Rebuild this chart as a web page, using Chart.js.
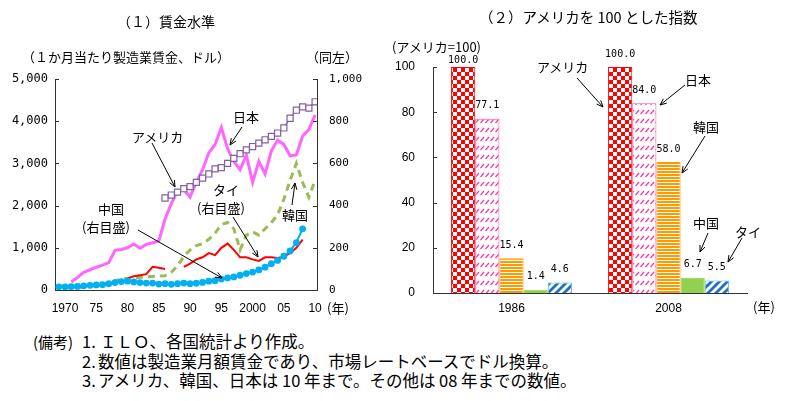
<!DOCTYPE html>
<html>
<head>
<meta charset="utf-8">
<script src="https://cdn.jsdelivr.net/npm/chart.js@4.4.0/dist/chart.umd.min.js"></script>
<style>
body { margin: 0; background: #fff; }
#wrap { position: relative; width: 785px; height: 401px; overflow: hidden; font-family: "Noto Sans CJK JP", sans-serif; color: #000; }
.t { position: absolute; white-space: nowrap; line-height: 1; }
.n { font-size: 16.5px; }
canvas { position: absolute; top: 0; }
</style>
</head>
<body>
<div id="wrap">
  <canvas id="c1" width="390" height="320" style="left:0"></canvas>
  <canvas id="c2" width="400" height="320" style="left:385px"></canvas>

  <div class="t" style="left:117px;top:14px;font-size:14px">（１）賃金水準</div>
  <div class="t" style="left:22px;top:50px;font-size:13px">（１か月当たり製造業賃金、ドル）</div>
  <div class="t" style="left:306px;top:50px;font-size:13px">（同左）</div>
  <div class="t" style="left:132px;top:130px;font-size:13px">アメリカ</div>
  <div class="t" style="left:233px;top:110px;font-size:13px">日本</div>
  <div class="t" style="left:213px;top:183px;font-size:13px">タイ</div>
  <div class="t" style="left:197px;top:201px;font-size:13px">(右目盛)</div>
  <div class="t" style="left:98px;top:202px;font-size:13px">中国</div>
  <div class="t" style="left:82px;top:220px;font-size:13px">(右目盛)</div>
  <div class="t" style="left:282px;top:208px;font-size:13px">韓国</div>
  <div class="t" style="left:327px;top:301px;font-size:13px">(年)</div>

  <div class="t" style="left:479px;top:10px;font-size:14.5px">（２）アメリカを 100 とした指数</div>
  <div class="t" style="left:392px;top:40px;font-size:13px">(アメリカ=100)</div>
  <div class="t" style="left:537px;top:60px;font-size:13px">アメリカ</div>
  <div class="t" style="left:685px;top:73px;font-size:13px">日本</div>
  <div class="t" style="left:693px;top:120px;font-size:13px">韓国</div>
  <div class="t" style="left:693px;top:216px;font-size:13px">中国</div>
  <div class="t" style="left:735px;top:225px;font-size:13px">タイ</div>
  <div class="t" style="left:753px;top:300px;font-size:13px">(年)</div>

  <div class="t" style="left:33px;top:334px;font-size:15px">(備考)</div>
  <div class="t n" style="left:82px;top:333px">1.</div>
  <div class="t n" style="left:100px;top:333px">ＩＬＯ、各国統計より作成。</div>
  <div class="t n" style="left:82px;top:353px">2.</div>
  <div class="t n" style="left:98px;top:353px">数値は製造業月額賃金であり、市場レートベースでドル換算。</div>
  <div class="t n" style="left:82px;top:372px">3.</div>
  <div class="t n" style="left:98px;top:372px">アメリカ、韓国、日本は 10 年まで。その他は 08 年までの数値。</div>
</div>

<script>
// (1) wage level, dollars per month
var years = [1969,1970,1971,1972,1973,1974,1975,1976,1977,1978,1979,
  1980,1981,1982,1983,1984,1985,1986,1987,1988,1989,
  1990,1991,1992,1993,1994,1995,1996,1997,1998,1999,
  2000,2001,2002,2003,2004,2005,2006,2007,2008,2009,2010];
var japan = [null,null,190,300,420,480,540,590,650,940,960,
  1000,1090,990,1080,1120,1160,1680,2050,2350,2380,
  2200,2550,2850,3250,3450,3850,3350,3050,2850,3200,
  2550,3050,2750,3300,3550,3450,3180,3200,3650,3800,4150];
var usa = [null,null,null,null,null,null,null,null,null,null,null,
  null,null,null,null,null,null,2180,2250,2320,2400,
  2450,2550,2650,2750,2870,2900,3000,3120,3230,3320,
  3400,3480,3560,3640,3720,3840,4070,4260,4340,4310,4460];
var korea = [null,40,50,55,70,90,110,140,170,220,260,
  270,280,300,310,320,330,340,420,570,800,
  950,1050,1100,1200,1350,1550,1600,1450,950,1300,
  1380,1300,1450,1600,1780,2150,2600,3000,2550,2200,2600];
// right axis
var thai = [null,null,null,null,null,null,null,null,null,null,null,
  55,65,70,75,110,105,100,null,null,110,
  125,145,155,175,165,200,220,190,155,155,
  145,138,155,155,152,158,175,200,239,null,null];
var china = [15,15,16,17,20,22,24,25,30,35,40,
  42,38,35,33,33,28,30,27,30,33,
  30,32,36,42,44,52,57,62,70,78,
  85,95,108,125,140,160,185,225,290,null,null];
var xTickYears = [1970,1975,1980,1985,1990,1995,2000,2005,2010];
var xTickLabels = ['1970','75','80','85','90','95','2000','05','10'];

// (2) index, USA = 100
var groups = ['1986','2008'];
var usaIdx = [100.0,100.0];
var japanIdx = [77.1,84.0];
var koreaIdx = [15.4,58.0];
var chinaIdx = [1.4,6.7];
var thaiIdx = [4.6,5.5];

function pts(arr) {
  return years.map(function (y, i) { return {x: y, y: arr[i]}; });
}

function arrow(ctx, x1, y1, x2, y2) {
  var a = Math.atan2(y2 - y1, x2 - x1), h = 7;
  ctx.beginPath();
  ctx.moveTo(x1, y1); ctx.lineTo(x2, y2);
  ctx.moveTo(x2 - h * Math.cos(a - 0.4), y2 - h * Math.sin(a - 0.4));
  ctx.lineTo(x2, y2);
  ctx.lineTo(x2 - h * Math.cos(a + 0.4), y2 - h * Math.sin(a + 0.4));
  ctx.stroke();
}

function innerTicks(ctx, scale, side) {
  ctx.beginPath();
  scale.ticks.forEach(function (t) {
    var py = Math.round(scale.getPixelForValue(t.value)) + 0.5;
    if (side == 'left') { ctx.moveTo(scale.right, py); ctx.lineTo(scale.right + 4, py); }
    else { ctx.moveTo(scale.left - 4, py); ctx.lineTo(scale.left, py); }
  });
  ctx.stroke();
}

var leftDeco = {
  id: 'leftDeco',
  afterDraw: function (chart) {
    var ctx = chart.ctx;
    ctx.save();
    ctx.strokeStyle = '#333'; ctx.lineWidth = 1;
    innerTicks(ctx, chart.scales.y, 'left');
    innerTicks(ctx, chart.scales.y1, 'right');
    ctx.strokeStyle = '#000';
    arrow(ctx, 152, 143, 175, 187);
    arrow(ctx, 242, 127, 230, 145);
    arrow(ctx, 233, 217, 258, 257);
    arrow(ctx, 138, 230, 222, 278);
    arrow(ctx, 292, 205, 295, 183);
    ctx.restore();
  }
};

new Chart(document.getElementById('c1'), {
  type: 'line',
  data: {
    datasets: [
      { label: '中国', data: pts(china), yAxisID: 'y1', order: 0,
        borderColor: '#00B0F0', backgroundColor: '#00B0F0', borderWidth: 2,
        pointRadius: 3.4, pointStyle: 'circle', pointBorderWidth: 0 },
      { label: 'アメリカ', data: pts(usa), yAxisID: 'y', order: 1,
        borderColor: '#7F60A8', backgroundColor: '#fff', borderWidth: 1.5,
        pointRadius: 4.3, pointStyle: 'rect', pointBorderWidth: 1.2 },
      { label: 'タイ', data: pts(thai), yAxisID: 'y1', order: 2,
        borderColor: '#FF0000', borderWidth: 2, pointRadius: 0 },
      { label: '韓国', data: pts(korea), yAxisID: 'y', order: 3,
        borderColor: '#9BBB59', borderWidth: 3, borderDash: [7, 5], pointRadius: 0 },
      { label: '日本', data: pts(japan), yAxisID: 'y', order: 4,
        borderColor: '#FF66FF', borderWidth: 3, pointRadius: 0 }
    ]
  },
  options: {
    responsive: false, animation: false,
    layout: { padding: { top: 79, left: 0, right: 0, bottom: 0 } },
    plugins: { legend: { display: false }, tooltip: { enabled: false } },
    scales: {
      x: {
        type: 'linear', min: 1968.4, max: 2010.3,
        afterBuildTicks: function (s) { s.ticks = xTickYears.map(function (v) { return {value: v}; }); },
        afterFit: function (s) { s.height = 30; },
        ticks: { autoSkip: false, maxRotation: 0, padding: 11, color: '#000',
          font: { family: 'Liberation Sans', size: 12 },
          callback: function (v) { return xTickLabels[xTickYears.indexOf(v)]; } },
        grid: { display: false, drawTicks: false },
        border: { color: '#333' }
      },
      y: {
        position: 'left', min: 0, max: 5000,
        afterFit: function (s) { s.width = 55; },
        ticks: { stepSize: 1000, padding: 7, color: '#000',
          font: { family: 'DejaVu Sans Mono', size: 12 },
          callback: function (v) { return v.toLocaleString('en-US'); } },
        grid: { display: false, drawTicks: false },
        border: { color: '#333' }
      },
      y1: {
        position: 'right', min: 0, max: 1000,
        afterFit: function (s) { s.width = 73; },
        ticks: { stepSize: 200, padding: 12, color: '#000',
          font: { family: 'DejaVu Sans Mono', size: 11 },
          callback: function (v) { return v.toLocaleString('en-US'); } },
        grid: { display: false, drawTicks: false },
        border: { color: '#333' }
      }
    }
  },
  plugins: [leftDeco]
});

// bar patterns
var ctx2 = document.getElementById('c2').getContext('2d');
function pattern(w, h, draw) {
  var c = document.createElement('canvas');
  c.width = w; c.height = h;
  var g = c.getContext('2d');
  g.fillStyle = '#fff'; g.fillRect(0, 0, w, h);
  draw(g);
  return ctx2.createPattern(c, 'repeat');
}
var checker = pattern(8, 8, function (g) {
  g.fillStyle = '#FF0000';
  g.fillRect(0, 0, 4, 4); g.fillRect(4, 4, 4, 4);
});
var pinkHatch = pattern(5, 9, function (g) {
  g.strokeStyle = '#FF3399'; g.lineWidth = 1.2;
  g.beginPath(); g.moveTo(0.5, 6); g.lineTo(4, 2); g.stroke();
});
var orangeStripe = pattern(4, 3, function (g) {
  g.fillStyle = '#FF9900'; g.fillRect(0, 0, 4, 2);
});
var blueDiag = pattern(8, 8, function (g) {
  g.strokeStyle = '#1F6FC0'; g.lineWidth = 2.8;
  g.beginPath();
  g.moveTo(0, 8); g.lineTo(8, 0);
  g.moveTo(-4, 4); g.lineTo(4, -4);
  g.moveTo(4, 12); g.lineTo(12, 4);
  g.stroke();
});

var rightDeco = {
  id: 'rightDeco',
  afterDatasetsDraw: function (chart) {
    var ctx = chart.ctx;
    ctx.save();
    ctx.fillStyle = '#000';
    ctx.font = '10px "DejaVu Sans Mono"';
    ctx.textAlign = 'center'; ctx.textBaseline = 'middle';
    chart.data.datasets.forEach(function (ds, i) {
      chart.getDatasetMeta(i).data.forEach(function (bar, j) {
        // first bar's label sits lower, under the axis caption
        var lift = (i === 0 && j === 0) ? 7 : 13;
        ctx.fillText(ds.data[j].toFixed(1), bar.x, bar.y - lift);
      });
    });
    ctx.strokeStyle = '#333'; ctx.lineWidth = 1;
    innerTicks(ctx, chart.scales.y, 'left');
    ctx.strokeStyle = '#000';
    arrow(ctx, 192, 78, 218, 107);
    arrow(ctx, 300, 85, 275, 105);
    arrow(ctx, 320, 136, 297, 173);
    arrow(ctx, 323, 233, 315, 252);
    arrow(ctx, 357, 238, 343, 262);
    ctx.restore();
  }
};

new Chart(ctx2, {
  type: 'bar',
  data: {
    labels: groups,
    datasets: [
      { label: 'アメリカ', data: usaIdx, backgroundColor: checker, borderColor: '#FF0000', borderWidth: 1 },
      { label: '日本', data: japanIdx, backgroundColor: pinkHatch, borderColor: '#FF4FA7', borderWidth: 1 },
      { label: '韓国', data: koreaIdx, backgroundColor: orangeStripe, borderColor: '#FF9900', borderWidth: 1 },
      { label: '中国', data: chinaIdx, backgroundColor: '#92D050', borderColor: '#92D050', borderWidth: 1 },
      { label: 'タイ', data: thaiIdx, backgroundColor: blueDiag, borderColor: '#5AB4EA', borderWidth: 1 }
    ]
  },
  options: {
    responsive: false, animation: false,
    layout: { padding: { top: 67, left: 0, right: 38, bottom: 0 } },
    plugins: { legend: { display: false }, tooltip: { enabled: false } },
    datasets: { bar: { categoryPercentage: 0.77, barPercentage: 1.0 } },
    scales: {
      x: {
        afterFit: function (s) { s.height = 27; },
        ticks: { padding: 8, color: '#000', font: { family: 'Liberation Sans', size: 12 } },
        grid: { display: false, drawTicks: false },
        border: { color: '#333' }
      },
      y: {
        min: 0, max: 100,
        afterFit: function (s) { s.width = 48; },
        ticks: { stepSize: 20, padding: 18, color: '#000', font: { family: 'Liberation Sans', size: 12 } },
        grid: { display: false, drawTicks: false },
        border: { color: '#333' }
      }
    }
  },
  plugins: [rightDeco]
});
</script>
</body>
</html>
